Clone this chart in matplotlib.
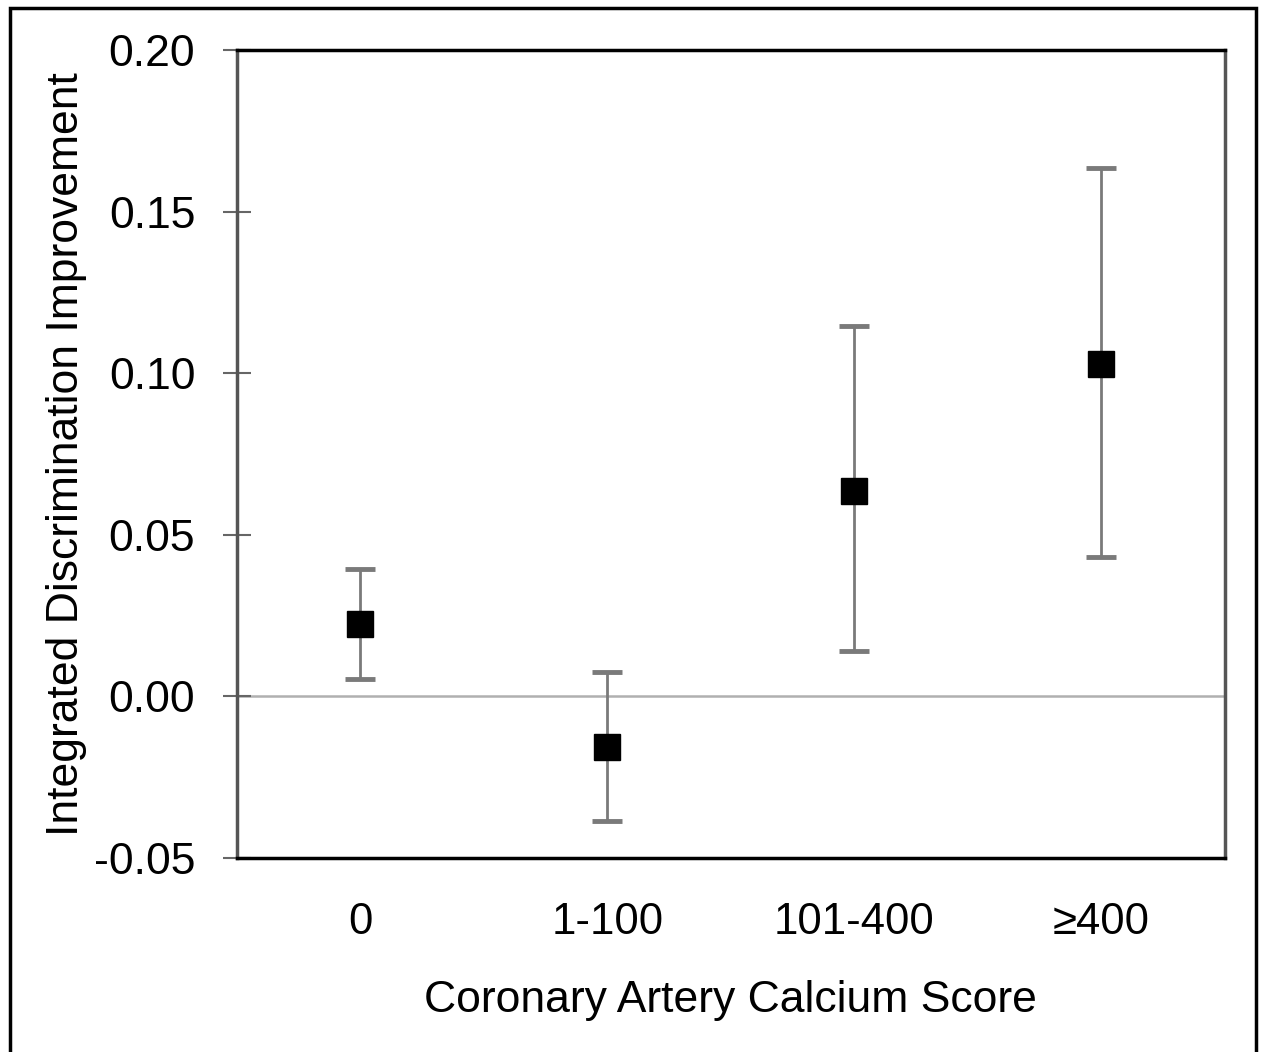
import matplotlib
matplotlib.use('Agg')
import matplotlib.pyplot as plt
from matplotlib.patches import Rectangle

plt.rcParams['font.family'] = ['Liberation Sans', 'DejaVu Sans']

# 데이터
categories = ['0', '1-100', '101-400', '≥400']
idi = [0.0223, -0.0158, 0.0634, 0.1027]
ci_low = [0.0053, -0.0387, 0.0139, 0.0430]
ci_high = [0.0393, 0.0074, 0.1145, 0.1634]

x = list(range(len(categories)))
err_low = [m - lo for m, lo in zip(idi, ci_low)]
err_high = [hi - m for m, hi in zip(idi, ci_high)]

fig = plt.figure(figsize=(12.64, 10.52), dpi=100)
ax = fig.add_axes([0.1875, 0.1844, 0.7813, 0.7681])

# 0 기준선
ax.axhline(0, color='#b0b0b0', lw=1.8, zorder=1)

# 오차막대 + 점
eb = ax.errorbar(x, idi, yerr=[err_low, err_high], fmt='none', ecolor='#7a7a7a',
                 elinewidth=2, capsize=11, capthick=3.5, zorder=2)
for cap in eb[1]:
    cap.set_color('black')
ax.plot(x, idi, 's', color='black', markersize=19, zorder=3)

ax.set_xlim(-0.5, 3.5)
ax.set_ylim(-0.05, 0.20)
ax.set_yticks([-0.05, 0.0, 0.05, 0.10, 0.15, 0.20])
ax.set_yticklabels(['-0.05', '0.00', '0.05', '0.10', '0.15', '0.20'])
ax.set_xticks(x)
ax.set_xticklabels(categories)

ax.tick_params(axis='y', direction='inout', length=20, width=1.5, color='#666666',
               labelsize=32, pad=20)
ax.tick_params(axis='x', length=0, labelsize=31.5, pad=32)

for s in ['top', 'bottom']:
    ax.spines[s].set_color('black')
    ax.spines[s].set_linewidth(2.5)
for s in ['left', 'right']:
    ax.spines[s].set_color('#555555')
    ax.spines[s].set_linewidth(2.5)

ax.set_xlabel('Coronary Artery Calcium Score', fontsize=32, labelpad=26)
ax.set_ylabel('Integrated Discrimination Improvement', fontsize=32, labelpad=5)

# 바깥 테두리
frame = Rectangle((10 / 1264, -0.05), (1256 - 10) / 1264, 1.05 - 8 / 1052,
                  transform=fig.transFigure, fill=False, edgecolor='black',
                  lw=2.5, clip_on=False)
fig.patches.append(frame)

fig.savefig('out.png', dpi=100)
